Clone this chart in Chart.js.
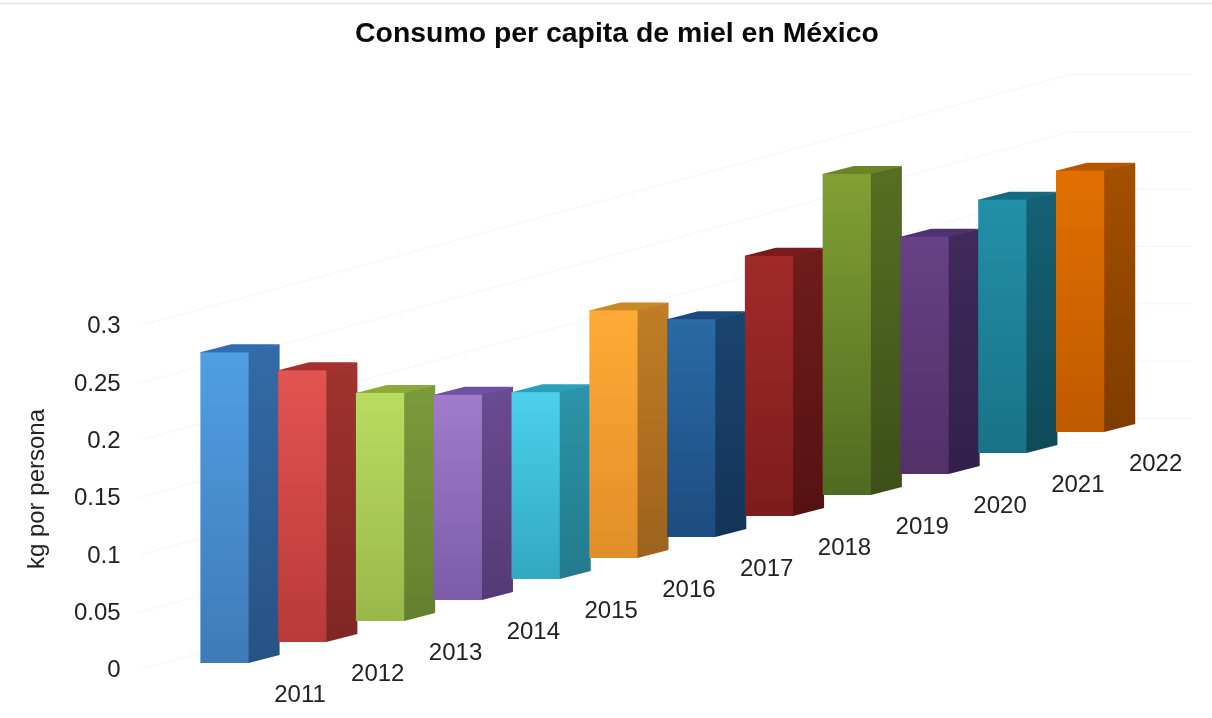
<!DOCTYPE html>
<html lang="es">
<head>
<meta charset="utf-8">
<title>Consumo per capita de miel en México</title>
<script src="https://cdn.jsdelivr.net/npm/chart.js@4/dist/chart.umd.min.js"></script>
<style>
  html, body { margin: 0; padding: 0; background: #fff; overflow: hidden; }
  canvas { display: block; }
</style>
</head>
<body>
<canvas id="miel" width="1212" height="718"></canvas>
<script>
// Consumption per year, kg per person
const years = ['2011','2012','2013','2014','2015','2016','2017','2018','2019','2020','2021','2022'];
const kgPerPerson = [0.271, 0.237, 0.199, 0.179, 0.163, 0.216, 0.190, 0.227, 0.280, 0.207, 0.221, 0.228];

// One colour family per bar: lit front face, shaded side, top cap
const frontTop    = ['#4f9fe3','#e35350','#b9dc60','#a07ccb','#4cd0ec','#ffab36','#2a6aa5','#a12a29','#82a034','#674185','#2190a8','#e07000'];
const frontBottom = ['#3f7ab8','#b83a38','#9ab84a','#7c5ca8','#33a8c0','#e08e28','#1d4c7f','#7d1c1d','#4f6b20','#523069','#1a7288','#c05a00'];
const sideTop     = ['#336aa6','#a0322f','#7a9a3c','#6a4a90','#2c93a8','#c07d26','#1b436f','#6e1c1a','#566e22','#3f2a5a','#156075','#a34f00'];
const sideBottom  = ['#275284','#7f2725','#64802f','#533a75','#247a8c','#9c621d','#143358','#551212','#3c4f18','#32204a','#0f4a58','#7f3c00'];
const capColour   = ['#2f6db0','#a5302d','#8caa3a','#7050a0','#2aa0bb','#c98a24','#1c4a80','#7b1a1a','#6a8428','#4f3270','#176a80','#b85500'];

// Oblique projection: each category steps back along the floor
const DEPTH_X = 31, DEPTH_Y = 8;
const FLOOR_FRONT = 6, FLOOR_STEP = 21;
const floorRise = i => FLOOR_FRONT + FLOOR_STEP * i;

class Bar3DElement extends Chart.BarElement {
  static id = 'bar3d';
  draw(ctx) {
    const i = this.slot;
    const rise = floorRise(i);
    const left = this.x - this.width / 2, right = this.x + this.width / 2;
    const top = this.y - rise, bottom = this.base - rise;

    // Cap and side run slightly under the next face so no seam shows
    ctx.fillStyle = capColour[i];
    ctx.beginPath();
    ctx.moveTo(left, top + 1);
    ctx.lineTo(left, top);
    ctx.lineTo(left + DEPTH_X, top - DEPTH_Y);
    ctx.lineTo(right + DEPTH_X, top - DEPTH_Y);
    ctx.lineTo(right, top + 1);
    ctx.closePath();
    ctx.fill();

    const side = ctx.createLinearGradient(0, top, 0, bottom);
    side.addColorStop(0, sideTop[i]);
    side.addColorStop(1, sideBottom[i]);
    ctx.fillStyle = side;
    ctx.beginPath();
    ctx.moveTo(right - 1, top);
    ctx.lineTo(right, top);
    ctx.lineTo(right + DEPTH_X, top - DEPTH_Y);
    ctx.lineTo(right + DEPTH_X, bottom - DEPTH_Y);
    ctx.lineTo(right, bottom);
    ctx.lineTo(right - 1, bottom);
    ctx.closePath();
    ctx.fill();

    const front = ctx.createLinearGradient(0, top, 0, bottom);
    front.addColorStop(0, frontTop[i]);
    front.addColorStop(1, frontBottom[i]);
    ctx.fillStyle = front;
    ctx.fillRect(left, top, right - left, bottom - top);
  }
}

class Bar3DController extends Chart.BarController {
  static id = 'bar3d';
  static defaults = { dataElementType: 'bar3d' };
  updateElements(bars, start, count, mode) {
    super.updateElements(bars, start, count, mode);
    for (let i = start; i < start + count; i++) bars[i].slot = i;
  }
}
Chart.register(Bar3DElement, Bar3DController);

// Moves the title and walks the year labels up the receding floor
const obliqueLayout = {
  id: 'obliqueLayout',
  afterLayout(chart) {
    chart.titleBlock.left += 92;
    const { x, y } = chart.scales;
    x._computeLabelArea = () => undefined;
    x.getLabelItems().forEach((item, i) => {
      const [tx, ty] = item.options.translation;
      item.options.translation = [tx + 75.5, ty - FLOOR_STEP * i];
    });
    y.getLabelItems().forEach(item => {
      const [tx, ty] = item.options.translation;
      item.options.translation = [tx, ty + 1.5];
    });
  }
};

// Faint gridlines: along the side wall, then flat across the back wall
const obliqueGrid = {
  id: 'obliqueGrid',
  beforeDatasetsDraw(chart) {
    const { ctx, chartArea, scales: { y } } = chart;
    const startX = chartArea.left - 46;
    const bendX = startX + 930;
    const endX = bendX + 123;
    ctx.save();
    ctx.strokeStyle = '#f5f5f5';
    ctx.lineWidth = 1;
    y.ticks.forEach(tick => {
      const py = y.getPixelForValue(tick.value);
      ctx.beginPath();
      ctx.moveTo(startX, py + 0.5);
      ctx.lineTo(bendX, py - 251 + 0.5);
      ctx.lineTo(endX, py - 251 + 0.5);
      ctx.stroke();
    });
    // Hairline along the top edge of the page
    ctx.strokeStyle = '#e6e6e6';
    ctx.lineWidth = 1.5;
    ctx.beginPath();
    ctx.moveTo(0, 3.5);
    ctx.lineTo(chart.width, 3.5);
    ctx.stroke();
    ctx.restore();
  }
};

const FONT = '"Liberation Sans", Arial, sans-serif';

new Chart(document.getElementById('miel'), {
  type: 'bar3d',
  data: {
    labels: years,
    datasets: [{ data: kgPerPerson, categoryPercentage: 1, barPercentage: 0.62, clip: false }]
  },
  plugins: [obliqueLayout, obliqueGrid],
  options: {
    responsive: false,
    animation: false,
    layout: { padding: { left: 23, right: 93, top: 0, bottom: 0 } },
    plugins: {
      legend: { display: false },
      tooltip: { enabled: false },
      title: {
        display: true,
        text: 'Consumo per capita de miel en México',
        color: '#0a0a0a',
        font: { family: FONT, size: 28.4, weight: 'bold' },
        padding: { top: 17, bottom: 258 }
      }
    },
    scales: {
      x: {
        type: 'category',
        grid: { display: false, drawTicks: false },
        border: { display: false },
        afterFit: s => { s.height = 49; },
        ticks: {
          color: '#222',
          autoSkip: false,
          maxRotation: 0,
          padding: 11.6,
          font: { family: FONT, size: 24 }
        }
      },
      y: {
        type: 'linear',
        min: 0,
        max: 0.314,
        grid: { display: false, drawTicks: false },
        border: { display: false },
        // The wide label gutter must not reserve space below the plot
        afterFit: s => { s.width = 162.6; s.paddingBottom = 0; },
        title: {
          display: true,
          text: 'kg por persona',
          color: '#222',
          font: { family: FONT, size: 24 },
          padding: { top: 0, bottom: 23 }
        },
        ticks: {
          color: '#222',
          stepSize: 0.05,
          includeBounds: false,
          padding: 65,
          font: { family: FONT, size: 24 },
          callback: v => String(+v.toFixed(2))
        }
      }
    }
  }
});
</script>
</body>
</html>
